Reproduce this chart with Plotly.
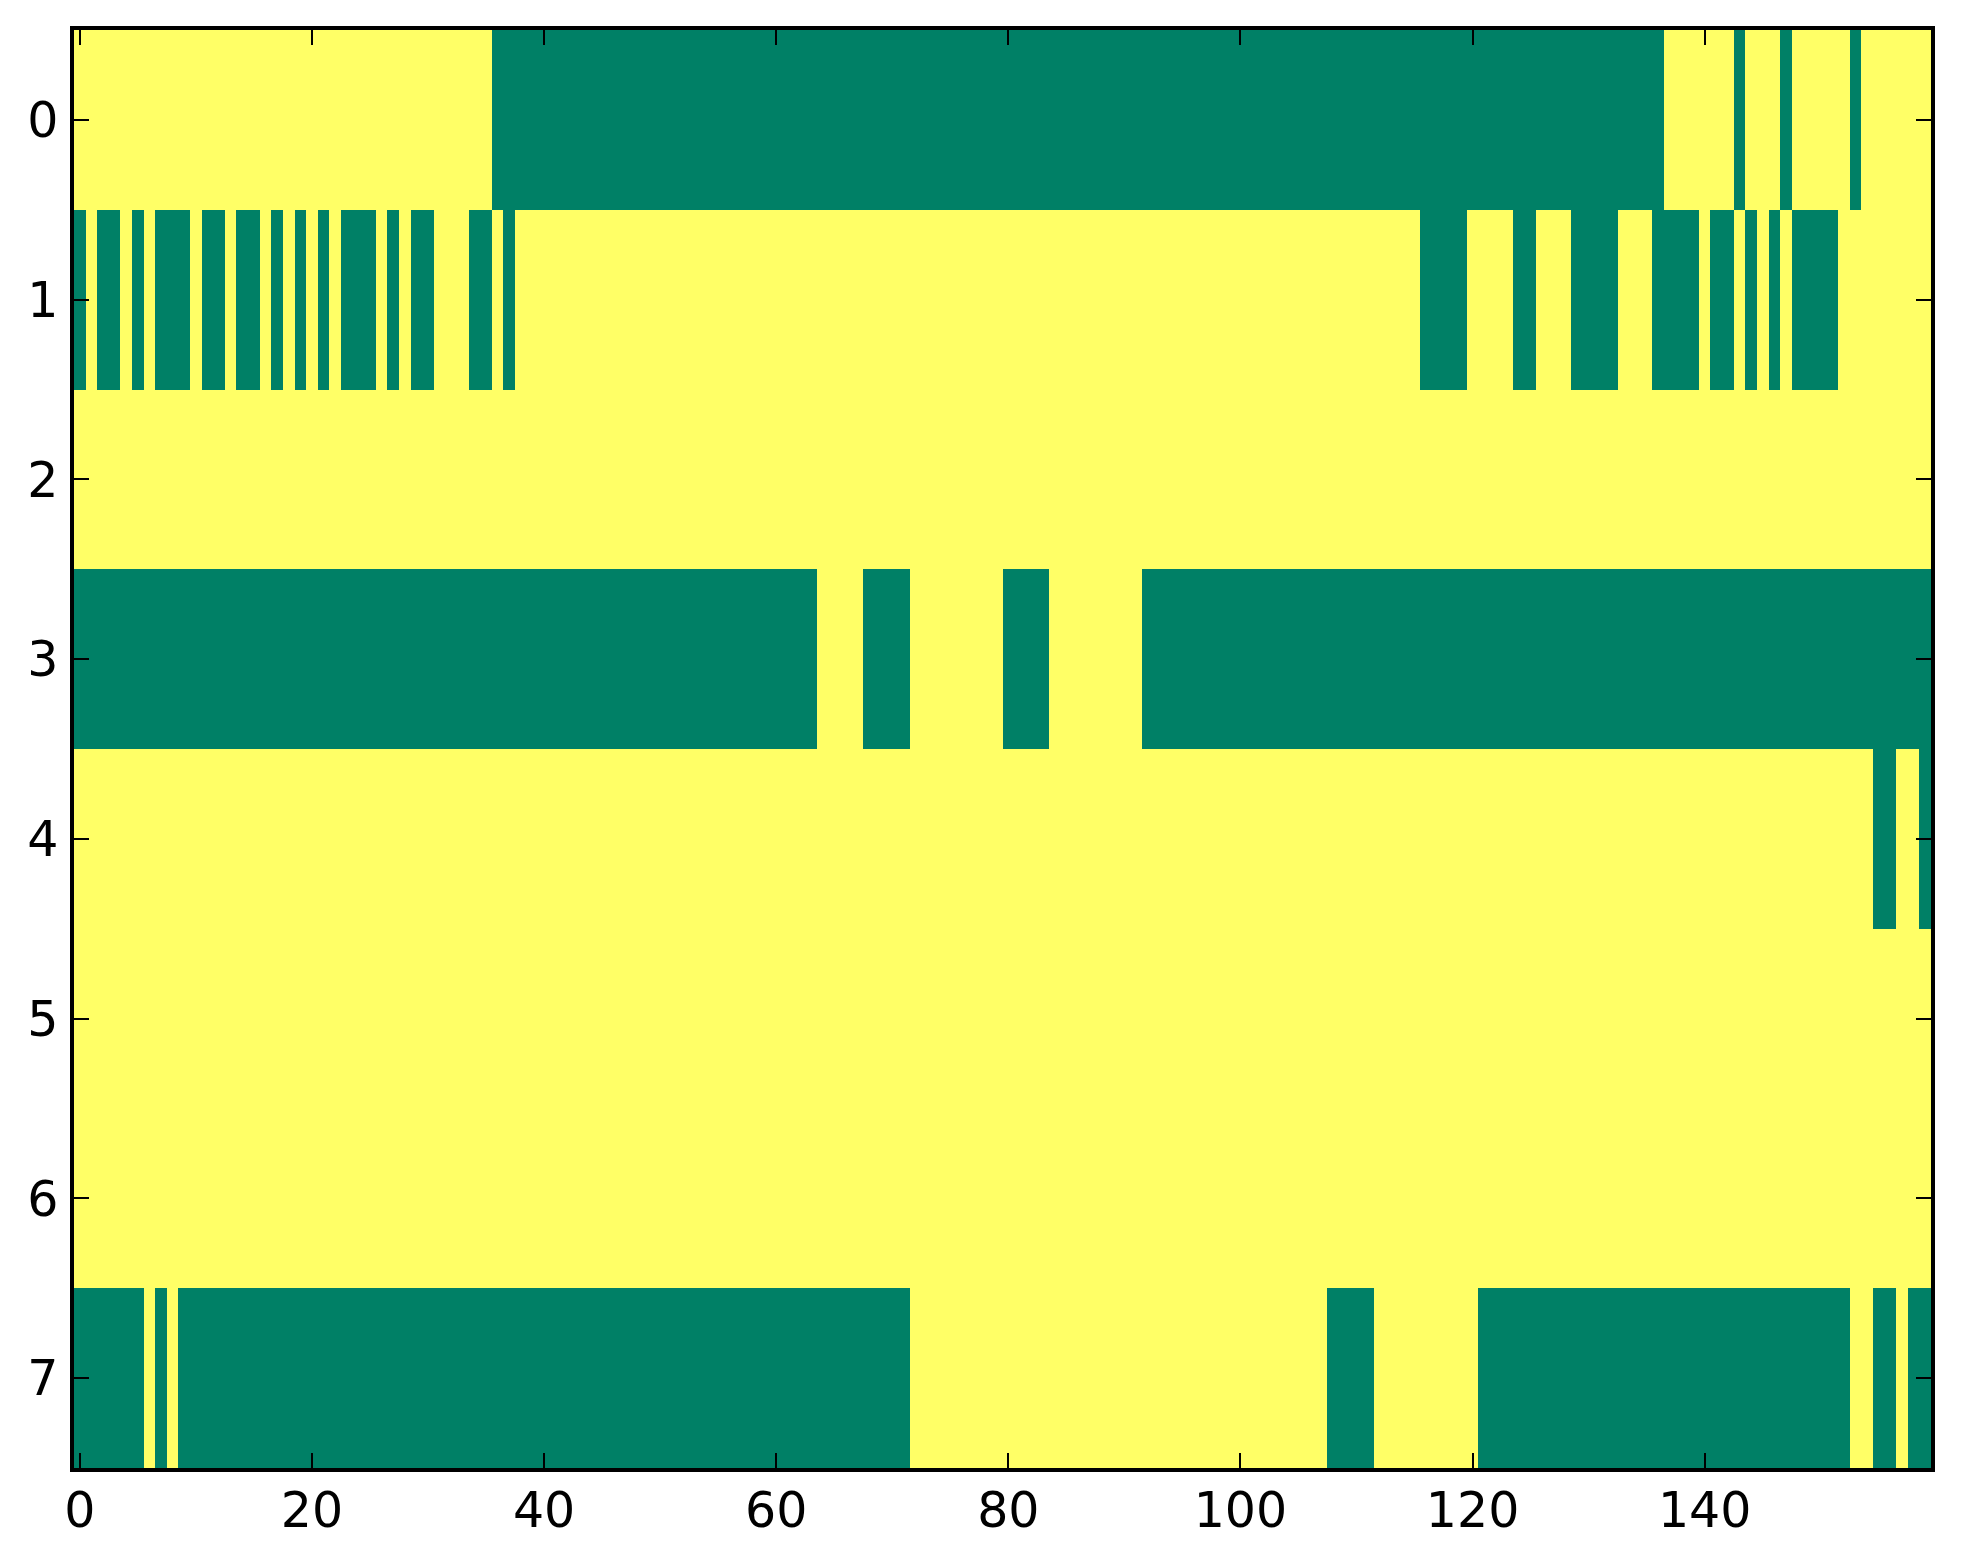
import plotly.graph_objects as go

# 8 rows x 160 columns, 1 = yellow, 0 = green (summer colormap)
row0 = "1" * 36 + "0" * 101 + "1" * 6 + "0" + "1" * 3 + "0" + "1" * 5 + "0" + "1" * 6
row1 = ("01001010001001001010101000101001110010" + "1" * 78 + "0" * 4 + "1" * 4
        + "00" + "111" + "0000" + "111" + "0000" + "1" + "00" + "1" + "0" + "1" + "0" + "1"
        + "0000" + "1" * 8)
row2 = "1" * 160
row3 = "0" * 64 + "1" * 4 + "0" * 4 + "1" * 8 + "0" * 4 + "1" * 8 + "0" * 68
row4 = "1" * 155 + "00" + "11" + "0"
row5 = "1" * 160
row6 = "1" * 160
row7 = ("0" * 6 + "1" + "0" + "1" + "0" * 63 + "1" * 36 + "0" * 4 + "1" * 9 + "0" * 32
        + "11" + "00" + "1" + "00")

rows = [row0, row1, row2, row3, row4, row5, row6, row7]
for r in rows:
    assert len(r) == 160, len(r)
z = [[int(ch) for ch in r] for r in rows]

x_ticks = [0, 20, 40, 60, 80, 100, 120, 140]
y_ticks = [0, 1, 2, 3, 4, 5, 6, 7]

fig = go.Figure(go.Heatmap(
    z=z,
    x=list(range(160)),
    y=list(range(8)),
    colorscale=[[0, "rgb(0,128,102)"], [1, "rgb(255,255,102)"]],
    zmin=0, zmax=1,
    showscale=False,
))

axis_style = dict(
    showline=True, linecolor="black", linewidth=3.5, mirror="allticks",
    ticks="inside", ticklen=15, tickwidth=1.5, tickcolor="black",
    showgrid=False, zeroline=False,
    tickfont=dict(family="DejaVu Sans", size=49, color="black"),
)

fig.update_xaxes(range=[-0.5, 159.5], tickvals=x_ticks, ticklabelstandoff=-4, **axis_style)
fig.update_yaxes(range=[7.5, -0.5], tickvals=y_ticks, ticklabelstandoff=2, **axis_style)

fig.update_layout(
    width=1963, height=1564,
    margin=dict(l=74, r=32, t=30, b=96),
    paper_bgcolor="white", plot_bgcolor="white",
)

fig.write_html("out.html", config={"displayModeBar": False},
               post_script="document.body.style.margin='0';")
